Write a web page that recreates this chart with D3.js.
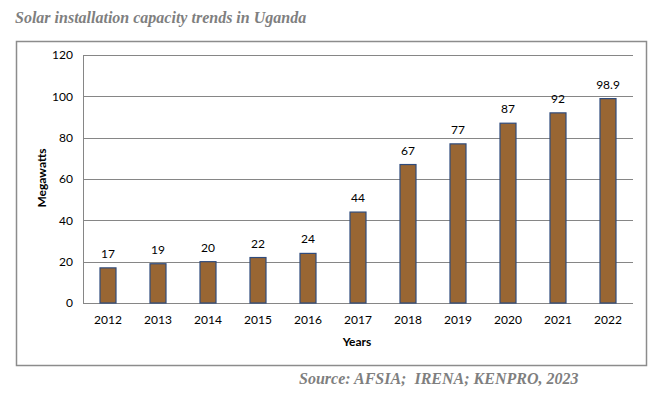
<!DOCTYPE html>
<html>
<head>
<meta charset="utf-8">
<script src="https://cdn.jsdelivr.net/npm/d3@7"></script>
<style>
  body { margin: 0; background: #fff; }
  svg { display: block; }
</style>
</head>
<body>
<div class="chart"></div>
<script>
// data
var years = ["2012", "2013", "2014", "2015", "2016", "2017", "2018", "2019", "2020", "2021", "2022"];
var megawatts = [17, 19, 20, 22, 24, 44, 67, 77, 87, 92, 98.9];
var yTicks = [0, 20, 40, 60, 80, 100, 120];

var W = 670, H = 398;
var plot = { left: 83, right: 633, top: 55, bottom: 303 };

var svg = d3.select(".chart")
    .append("svg")
    .attr("width", W)
    .attr("height", H);

// title
svg.append("text")
    .attr("x", 15)
    .attr("y", 23)
    .style("font-family", "'Liberation Serif', serif")
    .style("font-weight", "bold")
    .style("font-style", "italic")
    .style("font-size", "16px")
    .attr("fill", "#7f7f7f")
    .text("Solar installation capacity trends in Uganda");

// chart frame
svg.append("rect")
    .attr("x", 16.5)
    .attr("y", 41.5)
    .attr("width", 630)
    .attr("height", 324)
    .attr("fill", "#fff")
    .attr("stroke", "#8c8c8c")
    .attr("stroke-width", 1.5);

var x = d3.scaleBand()
    .domain(years)
    .range([plot.left, plot.right])
    .paddingInner(0.68)
    .paddingOuter(0.34);

var y = d3.scaleLinear()
    .domain([0, 120])
    .range([plot.bottom, plot.top]);

// gridlines
svg.append("g")
    .selectAll("line")
    .data(yTicks)
    .enter()
    .append("line")
    .attr("x1", plot.left)
    .attr("x2", plot.right)
    .attr("y1", function (d) { return Math.round(y(d)) + 0.5; })
    .attr("y2", function (d) { return Math.round(y(d)) + 0.5; })
    .attr("stroke", "#868686")
    .attr("stroke-width", 1);

// y axis line
svg.append("line")
    .attr("x1", plot.left + 0.5)
    .attr("x2", plot.left + 0.5)
    .attr("y1", plot.top)
    .attr("y2", plot.bottom)
    .attr("stroke", "#868686");

var labelFont = "Lato, 'Open Sans', sans-serif";

// y tick labels
svg.append("g")
    .selectAll("text")
    .data(yTicks)
    .enter()
    .append("text")
    .attr("x", 73)
    .attr("y", function (d) { return y(d); })
    .attr("dy", "0.35em")
    .attr("text-anchor", "end")
    .style("font-family", labelFont)
    .style("font-size", "12px")
    .attr("fill", "#000")
    .text(function (d) { return d; });

// bars
svg.append("g")
    .selectAll("rect")
    .data(megawatts)
    .enter()
    .append("rect")
    .attr("x", function (d, i) { return x(years[i]); })
    .attr("y", function (d) { return y(d); })
    .attr("width", x.bandwidth())
    .attr("height", function (d) { return y(0) - y(d); })
    .attr("fill", "#996633")
    .attr("stroke", "#2f4b7c")
    .attr("stroke-width", 1.2);

// value labels
svg.append("g")
    .selectAll("text")
    .data(megawatts)
    .enter()
    .append("text")
    .attr("x", function (d, i) { return x(years[i]) + x.bandwidth() / 2; })
    .attr("y", function (d) { return y(d) - 10; })
    .attr("text-anchor", "middle")
    .style("font-family", labelFont)
    .style("font-size", "12px")
    .attr("fill", "#000")
    .text(function (d) { return d; });

// x tick labels
svg.append("g")
    .selectAll("text")
    .data(years)
    .enter()
    .append("text")
    .attr("x", function (d) { return x(d) + x.bandwidth() / 2; })
    .attr("y", 320)
    .attr("dy", "0.35em")
    .attr("text-anchor", "middle")
    .style("font-family", labelFont)
    .style("font-size", "12px")
    .attr("fill", "#000")
    .text(function (d) { return d; });

// axis titles
svg.append("text")
    .attr("x", 357)
    .attr("y", 342)
    .attr("dy", "0.35em")
    .attr("text-anchor", "middle")
    .style("font-family", labelFont)
    .style("font-weight", "bold")
    .style("font-size", "12px")
    .text("Years");

svg.append("text")
    .attr("transform", "translate(42,178) rotate(-90)")
    .attr("dy", "0.35em")
    .attr("text-anchor", "middle")
    .style("font-family", labelFont)
    .style("font-weight", "bold")
    .style("font-size", "12px")
    .text("Megawatts");

// source
svg.append("text")
    .attr("x", 299)
    .attr("y", 384)
    .style("font-family", "'Liberation Serif', serif")
    .style("font-weight", "bold")
    .style("font-style", "italic")
    .style("font-size", "16px")
    .attr("fill", "#7f7f7f")
    .style("white-space", "pre")
    .text("Source: AFSIA;  IRENA; KENPRO, 2023");
</script>
</body>
</html>
